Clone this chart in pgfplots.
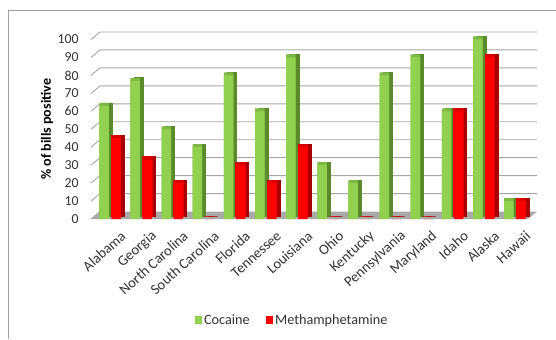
\documentclass[border=0pt]{standalone}
\usepackage{pgfplots}
\usepackage{pgfplotstable}
\pgfplotsset{compat=1.18}
\usepackage{fontspec}
\setmainfont{Carlito}

\definecolor{cocfront}{HTML}{92D050}
\definecolor{cocside}{HTML}{5A8A2C}
\definecolor{coctop}{HTML}{7DB944}
\definecolor{methfront}{HTML}{FF0000}
\definecolor{methside}{HTML}{A80000}
\definecolor{methtop}{HTML}{D80000}
\definecolor{gridgray}{HTML}{A6A6A6}
\definecolor{floorgray}{HTML}{A9A9A9}
\definecolor{framegray}{HTML}{A0A0A0}
\definecolor{txt}{HTML}{333333}

% share of bills testing positive, by state
\pgfplotstableread{
x  coc  meth
0  63   45
1  77   33
2  50   20
3  40   0
4  80   30
5  60   20
6  90   40
7  30   0
8  20   0
9  80   0
10 90   0
11 60   60
12 100  90
13 10   10
}\bills

\begin{document}
\begin{tikzpicture}[x=1bp,y=1bp]
\path[use as bounding box] (0,0) rectangle (556,339);
\draw[framegray, line width=0.8bp] (8,0) -- (8,329) -- (556,329);

\begin{axis}[
  at={(91bp,120bp)}, anchor=south west,
  scale only axis, width=437bp, height=179.5bp,
  xmin=-0.611, xmax=13.42, ymin=0, ymax=100,
  axis line style={draw=none},
  major tick length=0pt,
  xtick={0,...,13},
  xticklabels={Alabama,Georgia,North Carolina,South Carolina,Florida,Tennessee,Louisiana,Ohio,Kentucky,Pennsylvania,Maryland,Idaho,Alaska,Hawaii},
  ytick={0,10,...,100},
  tick label style={text=txt},
  yticklabel style={font=\fontsize{13.8}{14}\selectfont, xshift=-9bp},
  /pgf/number format/assume math mode=true,
  xticklabel style={font=\fontsize{14.6}{15}\selectfont, rotate=42, anchor=east, yshift=-20bp, xshift=0bp, inner sep=0bp},
  ylabel={\% of bills positive},
  ylabel style={at={(axis description cs:-0.1007,0.5)}, anchor=center, font=\bfseries\fontsize{14.1}{15}\selectfont, text=black},
  clip=false,
  ybar, bar width=9.5bp,
  legend style={at={(axis description cs:0.4599,-0.5627)}, anchor=center, draw=none, fill=none,
    legend columns=2, font=\fontsize{14.3}{15}\selectfont, text=txt,
    /tikz/every odd column/.append style={column sep=0bp},
    /tikz/every even column/.append style={column sep=14bp}},
  legend image code/.code={\fill[#1] (0bp,-3.7bp) rectangle (7.4bp,3.7bp);},
]
% floor and back wall grid
\fill[floorgray] (axis cs:-0.611,0) -- (axis cs:13.42,0) -- ([xshift=9bp,yshift=7.5bp]axis cs:13.42,0) -- ([xshift=9bp,yshift=7.5bp]axis cs:-0.611,0) -- cycle;
\pgfplotsinvokeforeach{10,20,...,100}{
  \draw[gridgray, line width=0.9bp] (axis cs:-0.611,#1) -- ([xshift=9bp,yshift=7.5bp]axis cs:-0.611,#1) -- ([xshift=9bp,yshift=7.5bp]axis cs:13.42,#1);
}
\draw[gridgray, line width=0.9bp] (axis cs:-0.611,0) -- ([xshift=9bp,yshift=7.5bp]axis cs:-0.611,0);

% Cocaine: side, top, front faces
\addplot[forget plot, bar shift=-6bp, fill=cocside, draw=cocside, line width=0.8bp, xshift=3.5bp, yshift=3bp] table[x=x,y=coc]{\bills};
\addplot[forget plot, bar shift=-6bp, fill=coctop, draw=none, yshift=3bp] table[x=x,y=coc]{\bills};
\addplot[bar shift=-6bp, fill=cocfront, draw=none] table[x=x,y=coc]{\bills};
\addlegendentry{Cocaine}
% Methamphetamine: side, top, front faces
\addplot[forget plot, bar shift=6bp, fill=methside, draw=methside, line width=0.8bp, xshift=3.5bp, yshift=3bp] table[x=x,y=meth]{\bills};
\addplot[forget plot, bar shift=6bp, fill=methtop, draw=methtop, line width=0.8bp, yshift=3bp] table[x=x,y=meth]{\bills};
\addplot[bar shift=6bp, fill=methfront, draw=none] table[x=x,y=meth]{\bills};
\addlegendentry{Methamphetamine}
\end{axis}
\end{tikzpicture}
\end{document}
